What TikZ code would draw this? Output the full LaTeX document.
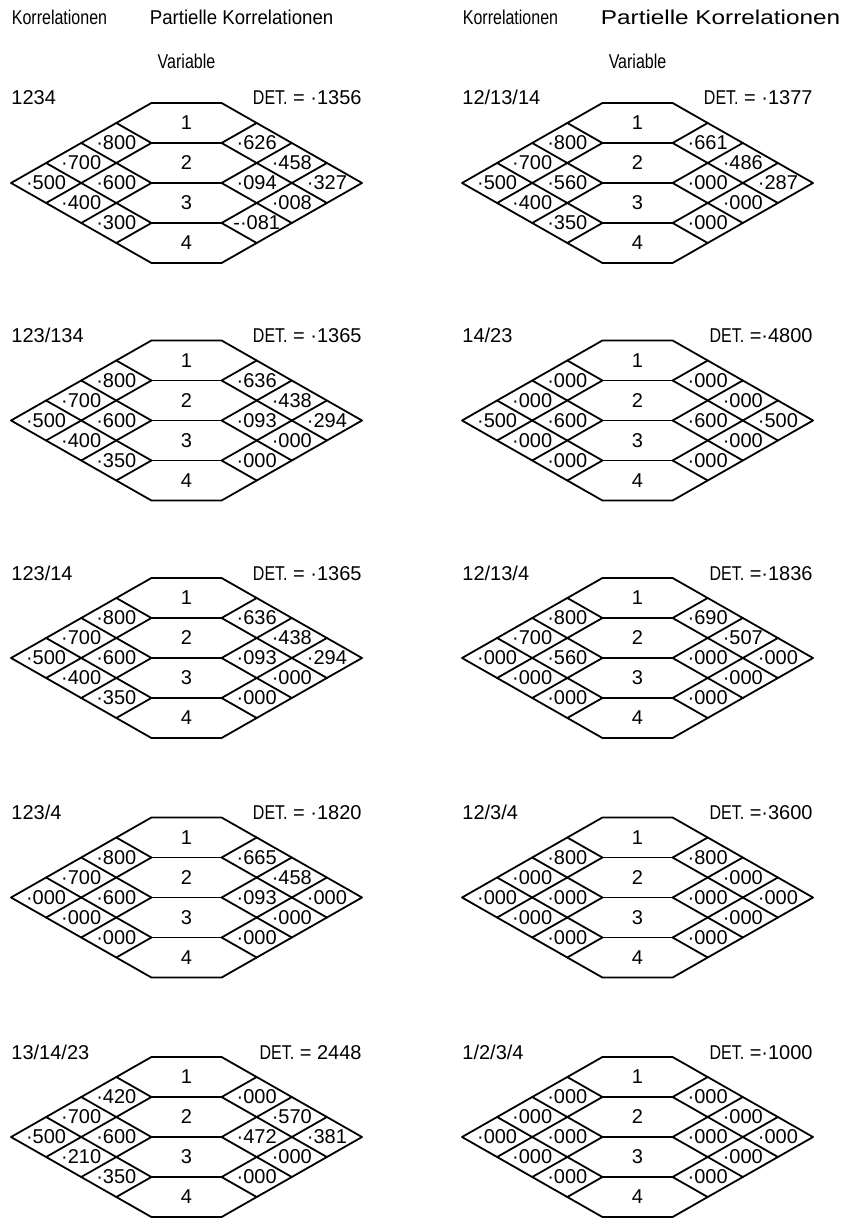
\documentclass[tikz,border=0pt]{standalone}
\usepackage{fontspec}
\setmainfont{Liberation Sans}
\newfontfamily\schmal{Liberation Sans}[FakeStretch=0.8]

\begin{document}
\begin{tikzpicture}[x=0.5pt, y=-0.5pt, line cap=round, line join=round, font=\fontsize{10}{12}\selectfont,
	kante/.style={line width=0.9pt},
	wert/.style={inner sep=0pt},
	kopf/.style={inner sep=0pt, font=\fontsize{10}{12}\selectfont\schmal}]
	\useasboundingbox (0,0) rectangle (843,1218);
	
	% 1. Kopfzeilen ueber beiden Spalten
	\foreach \cx/\s/\f in {186.5/a/1.165, 637.5/b/1.52} {
		\node[kopf, anchor=west] (k\s) at (\cx-175,17) {Korrelationen};
		\node[kopf, anchor=west] (p\s) at (\cx-37,17) {\scalebox{\f}[1]{Partielle Korrelationen}};
		\node[kopf] (var\s) at (\cx,61) {Variable};
	}
	
	% 2. Eine Raute: Lage, Name, Kombination, DET, linke und rechte Werte
	\def\raute#1#2#3#4#5#6{%
		\begin{scope}[shift={(#1)}, x=17.55pt, y=10pt]
			\draw[kante] (-5,0) -- (-1,4) -- (1,4) -- (5,0) -- (1,-4) -- (-1,-4) -- cycle;
			\foreach \y in {2,0,-2} \draw[kante] (-1,\y) -- (1,\y);
			\foreach \s in {-1,1}
				\foreach \k in {1,2,3} {
					\draw[kante] ({\s*(5-\k)},\k) -- (\s,{2*\k-4});
					\draw[kante] ({\s*(5-\k)},-\k) -- (\s,{4-2*\k});
				}
			\foreach \n/\y in {1/3,2/1,3/-1,4/-3} \node[wert] (#2v\n) at (0,\y) {\n};
			\node[wert, anchor=base west] (#2tit) at (-5,3.9) {#3};
			\node[wert, anchor=base east] (#2det) at (5,3.9) {{\schmal DET.} #4};
			\foreach \w [count=\i] in {#5} {
				\pgfmathsetmacro\rx{{-2,-3,-4,-2,-3,-2}[\i-1]}
				\pgfmathsetmacro\ry{{2,1,0,0,-1,-2}[\i-1]}
				\node[wert] (#2l\i) at (\rx,\ry) {\w};
			}
			\foreach \w [count=\i] in {#6} {
				\pgfmathsetmacro\rx{{2,3,4,2,3,2}[\i-1]}
				\pgfmathsetmacro\ry{{2,1,0,0,-1,-2}[\i-1]}
				\node[wert] (#2r\i) at (\rx,\ry) {\w};
			}
		\end{scope}}
	
	% 3. Linke Spalte
	\raute{186.5,183}{a}{1234}{= ·1356}{·800,·700,·500,·600,·400,·300}{·626,·458,·327,·094,·008,-·081}
	\raute{186.5,420.5}{c}{123/134}{= ·1365}{·800,·700,·500,·600,·400,·350}{·636,·438,·294,·093,·000,·000}
	\raute{186.5,658}{e}{123/14}{= ·1365}{·800,·700,·500,·600,·400,·350}{·636,·438,·294,·093,·000,·000}
	\raute{186.5,897.5}{g}{123/4}{= ·1820}{·800,·700,·000,·600,·000,·000}{·665,·458,·000,·093,·000,·000}
	\raute{186.5,1137}{i}{13/14/23}{= 2448}{·420,·700,·500,·600,·210,·350}{·000,·570,·381,·472,·000,·000}
	
	% 4. Rechte Spalte
	\raute{637.5,183}{b}{12/13/14}{= ·1377}{·800,·700,·500,·560,·400,·350}{·661,·486,·287,·000,·000,·000}
	\raute{637.5,420.5}{d}{14/23}{=·4800}{·000,·000,·500,·600,·000,·000}{·000,·000,·500,·600,·000,·000}
	\raute{637.5,658}{f}{12/13/4}{=·1836}{·800,·700,·000,·560,·000,·000}{·690,·507,·000,·000,·000,·000}
	\raute{637.5,897.5}{h}{12/3/4}{=·3600}{·800,·000,·000,·000,·000,·000}{·800,·000,·000,·000,·000,·000}
	\raute{637.5,1137}{j}{1/2/3/4}{=·1000}{·000,·000,·000,·000,·000,·000}{·000,·000,·000,·000,·000,·000}
\end{tikzpicture}
\end{document}
